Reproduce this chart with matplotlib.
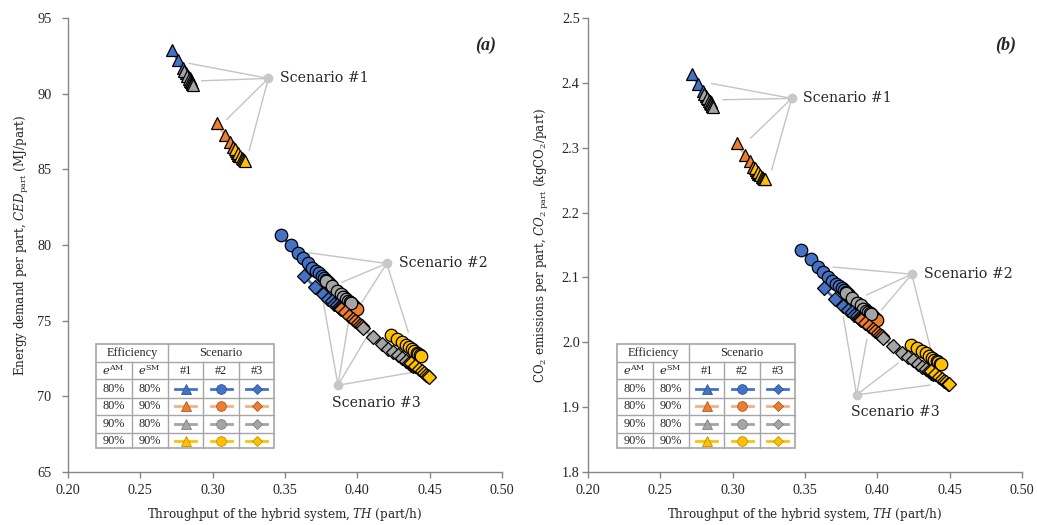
import matplotlib
matplotlib.use('Agg')
import matplotlib.pyplot as plt
from matplotlib.patches import Rectangle

plt.rcParams['font.family'] = ['Liberation Serif', 'DejaVu Serif']
plt.rcParams['mathtext.fontset'] = 'custom'
plt.rcParams['mathtext.rm'] = 'DejaVu Serif'
plt.rcParams['mathtext.it'] = 'DejaVu Serif:italic'
plt.rcParams['mathtext.bf'] = 'DejaVu Serif:bold'

# ---------------- data ----------------
eff_am = ['80%', '80%', '90%', '90%']
eff_sm = ['80%', '90%', '80%', '90%']
scenario_names = ['#1', '#2', '#3']
x_ticks = [0.20, 0.25, 0.30, 0.35, 0.40, 0.45, 0.50]
ya_ticks = [65, 70, 75, 80, 85, 90, 95]
yb_ticks = [1.8, 1.9, 2.0, 2.1, 2.2, 2.3, 2.4, 2.5]

# Scenario #1 (triangles)
s1_b_th = [0.2719, 0.2760, 0.2795, 0.2816, 0.2829, 0.2840, 0.2847, 0.2850]
s1_b_ced = [92.88, 92.22, 91.69, 91.36, 91.16, 91.03, 90.93, 90.87]
s1_b_co2 = [2.413, 2.399, 2.387, 2.380, 2.375, 2.372, 2.370, 2.369]
s1_o_th = [0.3028, 0.3085, 0.3120, 0.3143, 0.3158, 0.3168, 0.3175, 0.3180]
s1_o_ced = [88.09, 87.26, 86.80, 86.47, 86.24, 86.07, 85.97, 85.91]
s1_o_co2 = [2.307, 2.289, 2.279, 2.271, 2.266, 2.263, 2.260, 2.259]
s1_g_th = [0.2802, 0.2823, 0.2836, 0.2845, 0.2852, 0.2856, 0.2860, 0.2863]
s1_g_ced = [91.49, 91.20, 91.00, 90.87, 90.77, 90.69, 90.63, 90.60]
s1_g_co2 = [2.383, 2.376, 2.372, 2.369, 2.367, 2.365, 2.364, 2.363]
s1_y_th = [0.3154, 0.3175, 0.3191, 0.3203, 0.3212, 0.3219, 0.3224]
s1_y_ced = [86.34, 86.07, 85.87, 85.74, 85.66, 85.61, 85.57]
s1_y_co2 = [2.269, 2.263, 2.258, 2.255, 2.254, 2.252, 2.251]

# Scenario #2 (circles)
s2_b_th = [0.3470, 0.3539, 0.3592, 0.3626, 0.3661, 0.3689, 0.3712, 0.3735, 0.3754, 0.3770, 0.3783, 0.3794, 0.3801]
s2_b_ced = [80.65, 79.99, 79.44, 79.11, 78.78, 78.51, 78.29, 78.12, 77.94, 77.80, 77.67, 77.57, 77.51]
s2_b_co2 = [2.143, 2.128, 2.116, 2.109, 2.101, 2.095, 2.090, 2.087, 2.083, 2.080, 2.077, 2.074, 2.073]
s2_o_th = [0.3818, 0.3859, 0.3891, 0.3915, 0.3935, 0.3953, 0.3968, 0.3980, 0.3991, 0.3996]
s2_o_ced = [77.34, 76.98, 76.71, 76.49, 76.31, 76.15, 76.02, 75.91, 75.83, 75.80]
s2_o_co2 = [2.069, 2.061, 2.055, 2.051, 2.047, 2.043, 2.040, 2.038, 2.036, 2.035]
s2_g_th = [0.3783, 0.3825, 0.3859, 0.3884, 0.3904, 0.3922, 0.3935, 0.3946, 0.3954]
s2_g_ced = [77.64, 77.28, 76.98, 76.77, 76.58, 76.43, 76.31, 76.23, 76.17]
s2_g_co2 = [2.076, 2.068, 2.061, 2.057, 2.052, 2.049, 2.047, 2.045, 2.043]
s2_y_th = [0.4231, 0.4272, 0.4307, 0.4333, 0.4357, 0.4378, 0.4395, 0.4409, 0.4421, 0.4430, 0.4438]
s2_y_ced = [74.03, 73.82, 73.59, 73.42, 73.25, 73.11, 72.99, 72.89, 72.80, 72.74, 72.69]
s2_y_co2 = [1.996, 1.991, 1.986, 1.983, 1.979, 1.976, 1.973, 1.971, 1.969, 1.967, 1.966]

# Scenario #3 (diamonds)
s3_b_th = [0.3631, 0.3707, 0.3765, 0.3799, 0.3823, 0.3842, 0.3857, 0.3870, 0.3880, 0.3888]
s3_b_ced = [77.94, 77.23, 76.75, 76.46, 76.28, 76.13, 76.02, 75.92, 75.84, 75.77]
s3_b_co2 = [2.083, 2.067, 2.056, 2.050, 2.046, 2.042, 2.040, 2.038, 2.036, 2.035]
s3_o_th = [0.3887, 0.3915, 0.3942, 0.3967, 0.3987, 0.4005, 0.4018, 0.4029]
s3_o_ced = [75.79, 75.56, 75.32, 75.13, 74.96, 74.83, 74.72, 74.63]
s3_o_co2 = [2.035, 2.030, 2.025, 2.020, 2.017, 2.014, 2.011, 2.009]
s3_g_th = [0.4036, 0.4110, 0.4168, 0.4214, 0.4249, 0.4281, 0.4309, 0.4333, 0.4354, 0.4371, 0.4385]
s3_g_ced = [74.53, 73.92, 73.49, 73.15, 72.93, 72.71, 72.51, 72.35, 72.22, 72.10, 72.00]
s3_g_co2 = [2.007, 1.994, 1.984, 1.977, 1.972, 1.967, 1.962, 1.959, 1.956, 1.953, 1.951]
s3_y_th = [0.4371, 0.4399, 0.4423, 0.4444, 0.4461, 0.4475, 0.4486, 0.4495]
s3_y_ced = [72.18, 71.98, 71.81, 71.65, 71.52, 71.42, 71.34, 71.28]
s3_y_co2 = [1.955, 1.951, 1.947, 1.943, 1.940, 1.938, 1.936, 1.935]

# Scenario label anchors and leader-line targets
sc_labels = ['Scenario #1', 'Scenario #2', 'Scenario #3']
sc_pts_a = [(0.3385, 91.01), (0.4203, 78.78), (0.3866, 70.73)]
sc_tgt_a = [[(0.2839, 92.00), (0.2924, 90.85), (0.3097, 88.30), (0.3253, 86.27)],
            [(0.3668, 79.48), (0.3894, 77.54), (0.4032, 76.22), (0.4352, 74.25)],
            [(0.3763, 76.35), (0.3949, 75.49), (0.4088, 74.30), (0.4385, 71.59)]]
sc_pts_b = [(0.3408, 2.376), (0.4238, 2.105), (0.3857, 1.919)]
sc_tgt_b = [[(0.2855, 2.399), (0.2935, 2.374), (0.3125, 2.315), (0.3270, 2.266)],
            [(0.3696, 2.116), (0.3927, 2.073), (0.4030, 2.050), (0.4376, 1.983)],
            [(0.3765, 2.039), (0.3927, 2.004), (0.4145, 1.968), (0.4364, 1.934)]]

# ---------------- styles ----------------
face = ['#4472C4', '#ED7D31', '#A5A5A5', '#FFC000']
linec = ['#4472C4', '#F4B183', '#A5A5A5', '#FFC000']
edge_tab = ['#2F5597', '#AE5A21', '#7F7F7F', '#BF9000']
markers = ['^', 'o', 'D']
msize = [9.0, 9.0, 7.2]
msize_tab = [7.5, 7.0, 5.2]
WORD = 'DejaVu Serif'
NUM = 'Liberation Serif'
txt_c = '#262626'

series_a = [
    [(s1_b_th, s1_b_ced), (s1_o_th, s1_o_ced), (s1_g_th, s1_g_ced), (s1_y_th, s1_y_ced)],
    [(s2_b_th, s2_b_ced), (s2_o_th, s2_o_ced), (s2_g_th, s2_g_ced), (s2_y_th, s2_y_ced)],
    [(s3_b_th, s3_b_ced), (s3_o_th, s3_o_ced), (s3_g_th, s3_g_ced), (s3_y_th, s3_y_ced)],
]
series_b = [
    [(s1_b_th, s1_b_co2), (s1_o_th, s1_o_co2), (s1_g_th, s1_g_co2), (s1_y_th, s1_y_co2)],
    [(s2_b_th, s2_b_co2), (s2_o_th, s2_o_co2), (s2_g_th, s2_g_co2), (s2_y_th, s2_y_co2)],
    [(s3_b_th, s3_b_co2), (s3_o_th, s3_o_co2), (s3_g_th, s3_g_co2), (s3_y_th, s3_y_co2)],
]

W, H = 1037, 525
fig = plt.figure(figsize=(W / 100, H / 100), dpi=100)


def px_axes(x0, y0, x1, y1):
    return fig.add_axes([x0 / W, 1 - y1 / H, (x1 - x0) / W, (y1 - y0) / H])


spine_c = '#868686'
lead_c = '#C4C4C4'


def setup_axis(ax, yticks, yfmt, ylabel, letter, ylab_x, ypad):
    ax.set_xlim(0.2, 0.5)
    ax.set_ylim(yticks[0], yticks[-1])
    ax.set_xticks(x_ticks)
    ax.set_xticklabels(['%.2f' % v for v in x_ticks], family=NUM)
    ax.set_yticks(yticks)
    ax.set_yticklabels([yfmt % v for v in yticks], family=NUM)
    for s in ['top', 'right']:
        ax.spines[s].set_visible(False)
    for s in ['left', 'bottom']:
        ax.spines[s].set_color(spine_c)
        ax.spines[s].set_linewidth(1.0)
    ax.tick_params(axis='both', direction='out', length=4, width=1.0, color=spine_c,
                   labelsize=10.3, labelcolor=txt_c)
    ax.tick_params(axis='x', pad=5)
    ax.tick_params(axis='y', pad=ypad)
    ax.set_xlabel(r'Throughput of the hybrid system, $\mathit{TH}$ (part/h)', fontsize=8.6,
                  color=txt_c, family=WORD)
    ax.xaxis.set_label_coords(0.5, -0.075)
    ax.set_ylabel(ylabel, fontsize=8.6, color=txt_c, family=WORD)
    ax.yaxis.set_label_coords(ylab_x, 0.5)
    ax.text(0.962, 0.94, letter, transform=ax.transAxes, ha='center', va='center',
            fontsize=13, fontweight='bold', fontstyle='italic', family=NUM, color=txt_c)


def draw_series(ax, series, pts, tgts):
    for k, (p, tl) in enumerate(zip(pts, tgts)):
        for t in tl:
            ax.plot([p[0], t[0]], [p[1], t[1]], color=lead_c, lw=1.0, zorder=1)
        ax.plot([p[0]], [p[1]], 'o', color='#C8C8C8', ms=6, zorder=1)
        if k < 2:
            ax.annotate(sc_labels[k], xy=p, xytext=(8.5, 0), textcoords='offset points',
                        ha='left', va='center', fontsize=10.2, color=txt_c, family=WORD)
        else:
            ax.annotate(sc_labels[k], xy=p, xytext=(-4, -12.5), textcoords='offset points',
                        ha='left', va='center', fontsize=10.2, color=txt_c, family=WORD)
    for si, group in enumerate(series):
        for ci, (xs, ys) in enumerate(group):
            ax.plot(xs, ys, color=linec[ci], lw=2.0, zorder=3 + si)
            ax.plot(xs, ys, linestyle='none', marker=markers[si], ms=msize[si],
                    mfc=face[ci], mec='black', mew=0.9, zorder=3 + si)


def draw_table(x0, y0):
    tw, th = 178.3, 104.0
    tax = fig.add_axes([x0 / W, 1 - (y0 + th) / H, tw / W, th / H])
    tax.set_xlim(0, tw)
    tax.set_ylim(th, 0)
    tax.axis('off')
    bc = '#A6A6A6'
    tax.add_patch(Rectangle((0, 0), tw, th, facecolor='white', edgecolor=bc, lw=1.2, clip_on=False))
    cx = [0, 35.7, 71.7, 107.3, 143.0, 178.3]
    ry = [0, 17.4, 35.0, 53.4, 70.7, 88.4, 104.0]
    for y in ry[1:-1]:
        tax.plot([0, tw], [y, y], color=bc, lw=1.0, clip_on=False)
    tax.plot([cx[2], cx[2]], [0, th], color=bc, lw=1.0, clip_on=False)
    for xv in (cx[1], cx[3], cx[4]):
        tax.plot([xv, xv], [ry[1], th], color=bc, lw=1.0, clip_on=False)
    fs = 8.8
    tax.text((cx[0] + cx[2]) / 2, (ry[0] + ry[1]) / 2, 'Efficiency', ha='center', va='center',
             fontsize=fs, color=txt_c, family=NUM)
    tax.text((cx[2] + cx[5]) / 2, (ry[0] + ry[1]) / 2, 'Scenario', ha='center', va='center',
             fontsize=fs, color=txt_c, family=NUM)
    ym = (ry[1] + ry[2]) / 2
    tax.text((cx[0] + cx[1]) / 2, ym, r'$e^{\mathrm{AM}}$', ha='center', va='center', fontsize=8.2, color=txt_c)
    tax.text((cx[1] + cx[2]) / 2, ym, r'$e^{\mathrm{SM}}$', ha='center', va='center', fontsize=8.2, color=txt_c)
    for j, nm in enumerate(scenario_names):
        tax.text((cx[2 + j] + cx[3 + j]) / 2, ym, nm, ha='center', va='center', fontsize=fs,
                 color=txt_c, family=NUM)
    for i in range(4):
        yc = (ry[2 + i] + ry[3 + i]) / 2
        tax.text((cx[0] + cx[1]) / 2, yc, eff_am[i], ha='center', va='center', fontsize=fs,
                 color=txt_c, family=NUM)
        tax.text((cx[1] + cx[2]) / 2, yc, eff_sm[i], ha='center', va='center', fontsize=fs,
                 color=txt_c, family=NUM)
        for j in range(3):
            xc = (cx[2 + j] + cx[3 + j]) / 2
            tax.plot([xc - 10.5, xc + 10.5], [yc, yc], color=linec[i], lw=2.0, clip_on=False)
            tax.plot([xc], [yc], marker=markers[j], ms=msize_tab[j], mfc=face[i],
                     mec=edge_tab[i], mew=0.6, clip_on=False)


ax_a = px_axes(68, 18, 502, 472)
ax_b = px_axes(588, 18, 1022, 472)

setup_axis(ax_a, ya_ticks, '%d',
           r'Energy demand per part, $\mathit{CED}_{\mathrm{part}}$ (MJ/part)', '(a)', -0.085, 8)
setup_axis(ax_b, yb_ticks, '%.1f',
           r'CO$_2$ emissions per part, $\mathit{CO}_{2\ \mathrm{part}}$ (kgCO$_2$/part)', '(b)', -0.085, 2)

draw_series(ax_a, series_a, sc_pts_a, sc_tgt_a)
draw_series(ax_b, series_b, sc_pts_b, sc_tgt_b)

draw_table(96, 344.3)
draw_table(617, 344.3)

fig.savefig('out.png', dpi=100)
